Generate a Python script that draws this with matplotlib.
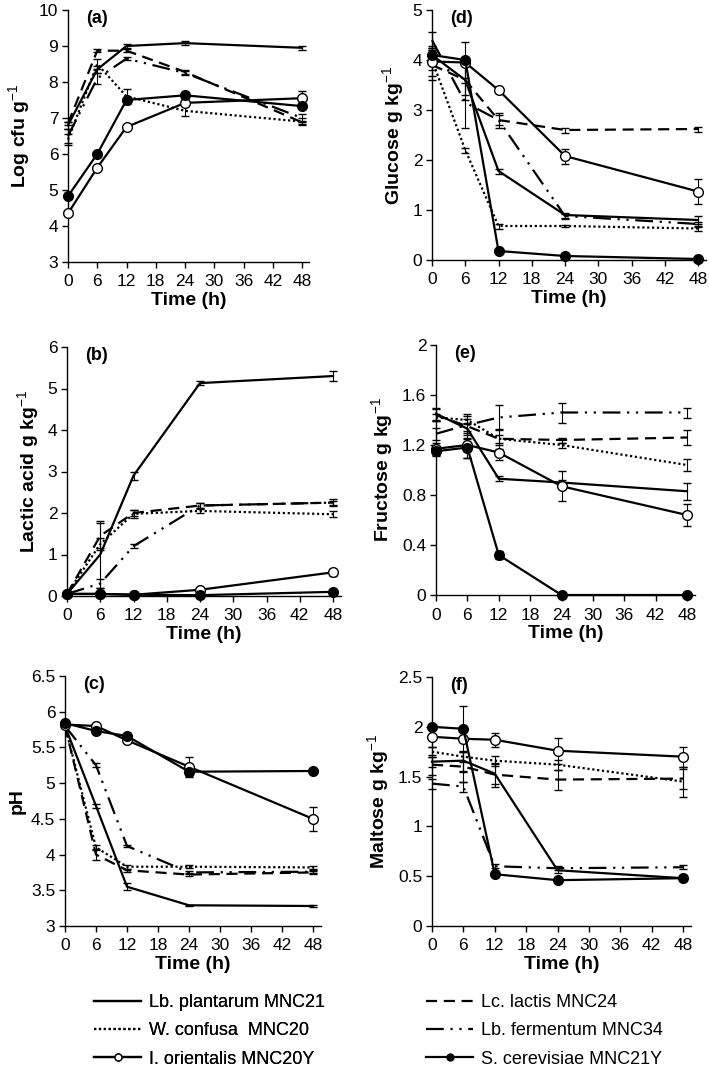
import numpy as np
import matplotlib
matplotlib.use('Agg')
import matplotlib.pyplot as plt
from matplotlib.lines import Line2D
from matplotlib.transforms import offset_copy

plt.rcParams['font.family'] = ['Liberation Sans', 'DejaVu Sans']
plt.rcParams['mathtext.fontset'] = 'custom'
plt.rcParams['mathtext.rm'] = 'Liberation Sans'
plt.rcParams['mathtext.bf'] = 'Liberation Sans:bold'

# sampling times (h)
time = [0, 6, 12, 24, 48]
strains = ['Lb. plantarum MNC21', 'Lc. lactis MNC24', 'W. confusa  MNC20',
           'Lb. fermentum MNC34', 'I. orientalis MNC20Y', 'S. cerevisiae MNC21Y']

# (a) Log cfu g-1
cfu_plantarum = [6.8, 8.35, 9.0, 9.08, 8.95]
cfu_lactis = [6.85, 8.87, 8.87, 8.28, 6.88]
cfu_confusa = [6.4, 8.5, 7.6, 7.2, 6.9]
cfu_fermentum = [6.5, 8.1, 8.65, 8.25, 7.0]
cfu_orientalis = [4.35, 5.62, 6.75, 7.42, 7.55]
cfu_cerevisiae = [4.83, 6.0, 7.5, 7.63, 7.33]
cfu_err = [[0.1, 0.1, 0.05, 0.05, 0.05], [0.05, 0.05, 0.05, 0.05, 0.05],
           [0.15, 0.15, 0.2, 0.15, 0.1], [0.2, 0.15, 0.05, 0.05, 0.1],
           [0.05, 0.05, 0.05, 0.1, 0.2], [0.05, 0.05, 0.05, 0.05, 0.05]]

# (b) lactic acid g kg-1
lac_plantarum = [0.05, 1.0, 2.9, 5.13, 5.3]
lac_lactis = [0.05, 1.45, 2.0, 2.18, 2.25]
lac_confusa = [0.05, 1.25, 1.98, 2.05, 1.97]
lac_fermentum = [0.05, 0.3, 1.2, 2.18, 2.25]
lac_orientalis = [0.05, 0.05, 0.03, 0.15, 0.57]
lac_cerevisiae = [0.05, 0.05, 0.03, 0.02, 0.1]
lac_err = [[0.02, 0.8, 0.1, 0.05, 0.12], [0.02, 0.3, 0.08, 0.05, 0.08],
           [0.02, 0.15, 0.1, 0.05, 0.07], [0.02, 0.1, 0.05, 0.05, 0.05],
           [0.02, 0.02, 0.02, 0.03, 0.08], [0.01, 0.01, 0.01, 0.01, 0.01]]

# (c) pH
ph_plantarum = [5.8, 4.68, 3.55, 3.29, 3.28]
ph_lactis = [5.8, 4.0, 3.78, 3.72, 3.75]
ph_confusa = [5.8, 4.1, 3.83, 3.83, 3.82]
ph_fermentum = [5.8, 5.25, 4.12, 3.75, 3.76]
ph_orientalis = [5.82, 5.8, 5.6, 5.23, 4.5]
ph_cerevisiae = [5.84, 5.73, 5.66, 5.16, 5.17]
ph_err = [[0.02, 0.03, 0.05, 0.01, 0.01], [0.02, 0.08, 0.02, 0.02, 0.02],
          [0.02, 0.03, 0.03, 0.02, 0.02], [0.02, 0.03, 0.02, 0.02, 0.02],
          [0.02, 0.02, 0.02, 0.13, 0.17], [0.02, 0.02, 0.02, 0.08, 0.02]]

# (d) glucose g kg-1
glu_plantarum = [4.1, 3.6, 1.78, 0.9, 0.8]
glu_lactis = [3.9, 3.6, 2.8, 2.6, 2.62]
glu_confusa = [4.0, 2.2, 0.68, 0.68, 0.63]
glu_fermentum = [4.4, 3.15, 2.8, 0.88, 0.72]
glu_orientalis = [3.97, 3.95, 3.4, 2.08, 1.37]
glu_cerevisiae = [4.1, 4.0, 0.18, 0.08, 0.02]
glu_err = [[0.15, 0.3, 0.05, 0.05, 0.08], [0.3, 0.4, 0.15, 0.05, 0.05],
           [0.2, 0.05, 0.05, 0.02, 0.05], [0.15, 0.5, 0.1, 0.05, 0.05],
           [0.3, 0.4, 0.05, 0.15, 0.25], [0.05, 0.05, 0.03, 0.02, 0.02]]

# (e) fructose g kg-1
fru_plantarum = [1.45, 1.33, 0.93, 0.9, 0.83]
fru_lactis = [1.44, 1.35, 1.25, 1.24, 1.26]
fru_confusa = [1.42, 1.4, 1.25, 1.2, 1.04]
fru_fermentum = [1.29, 1.36, 1.42, 1.46, 1.46]
fru_orientalis = [1.17, 1.2, 1.14, 0.87, 0.64]
fru_cerevisiae = [1.15, 1.18, 0.32, 0.0, 0.0]
fru_err = [[0.05, 0.05, 0.02, 0.02, 0.07], [0.05, 0.1, 0.08, 0.02, 0.06],
           [0.03, 0.03, 0.03, 0.02, 0.05], [0.05, 0.05, 0.1, 0.08, 0.04],
           [0.05, 0.1, 0.06, 0.12, 0.09], [0.04, 0.08, 0.03, 0.0, 0.0]]

# (f) maltose g kg-1
mal_plantarum = [1.65, 1.66, 1.53, 0.56, 0.48]
mal_lactis = [1.62, 1.6, 1.52, 1.47, 1.48]
mal_confusa = [1.75, 1.7, 1.66, 1.62, 1.45]
mal_fermentum = [1.43, 1.4, 0.6, 0.58, 0.59]
mal_orientalis = [1.9, 1.88, 1.87, 1.76, 1.7]
mal_cerevisiae = [2.0, 1.98, 0.52, 0.46, 0.48]
mal_err = [[0.05, 0.1, 0.1, 0.03, 0.03], [0.1, 0.15, 0.12, 0.1, 0.1],
           [0.05, 0.05, 0.05, 0.05, 0.15], [0.05, 0.05, 0.02, 0.02, 0.02],
           [0.1, 0.33, 0.07, 0.13, 0.1], [0.02, 0.02, 0.02, 0.02, 0.02]]

# line style for each strain, same order as strains
styles = [
    dict(ls='-', marker=None),
    dict(ls=(0, (5, 3)), marker=None),
    dict(ls=(0, (1, 1.2)), marker=None),
    dict(ls=(0, (8, 3, 1, 3, 1, 3)), marker=None),
    dict(ls='-', marker='o', mfc='white'),
    dict(ls='-', marker='o', mfc='black'),
]

W, H = 709, 1074
fig = plt.figure(figsize=(W / 100, H / 100), dpi=100)


def make_ax(x0, x48, ytop, ybot):
    # pixel positions of x=0, x=48, top and bottom of y range
    ppx = (x48 - x0) / 48.0
    width = 49.5 * ppx
    return fig.add_axes([x0 / W, 1 - ybot / H, width / W, (ybot - ytop) / H])


panels = [
    ('(a)', 'Log cfu g$^{-1}$', (3, 10), 1,
     [cfu_plantarum, cfu_lactis, cfu_confusa, cfu_fermentum, cfu_orientalis, cfu_cerevisiae], cfu_err,
     (68, 302, 10, 262)),
    ('(b)', 'Lactic acid g kg$^{-1}$', (0, 6), 1,
     [lac_plantarum, lac_lactis, lac_confusa, lac_fermentum, lac_orientalis, lac_cerevisiae], lac_err,
     (67, 333, 347, 596)),
    ('(c)', 'pH', (3, 6.5), 0.5,
     [ph_plantarum, ph_lactis, ph_confusa, ph_fermentum, ph_orientalis, ph_cerevisiae], ph_err,
     (65, 313, 676, 926)),
    ('(d)', 'Glucose g kg$^{-1}$', (0, 5), 1,
     [glu_plantarum, glu_lactis, glu_confusa, glu_fermentum, glu_orientalis, glu_cerevisiae], glu_err,
     (432, 698, 10, 260)),
    ('(e)', 'Fructose g kg$^{-1}$', (0, 2), 0.4,
     [fru_plantarum, fru_lactis, fru_confusa, fru_fermentum, fru_orientalis, fru_cerevisiae], fru_err,
     (436, 687, 345, 595)),
    ('(f)', 'Maltose g kg$^{-1}$', (0, 2.5), 0.5,
     [mal_plantarum, mal_lactis, mal_confusa, mal_fermentum, mal_orientalis, mal_cerevisiae], mal_err,
     (432, 683, 677, 926)),
]

for label, ylabel, ylim, ystep, series, errs, box in panels:
    ax = make_ax(*box)
    for vals, err, st in zip(series, errs, styles):
        ax.errorbar(time, vals, yerr=err, color='black', lw=1.6, ls=st['ls'],
                    marker=st['marker'], ms=7, mfc=st.get('mfc', 'black'), mec='black', mew=1.0,
                    elinewidth=0.8, capsize=3, capthick=0.8, clip_on=False, zorder=3)
    ax.set_xlim(0, 49.5)
    ax.set_ylim(*ylim)
    ax.set_xticks([0, 6, 12, 18, 24, 30, 36, 42, 48])
    ticks = np.arange(ylim[0], ylim[1] + 1e-9, ystep)
    ax.set_yticks(ticks)
    ax.set_yticklabels(['%g' % t for t in ticks])
    for s in ['top', 'right']:
        ax.spines[s].set_visible(False)
    for s in ['left', 'bottom']:
        ax.spines[s].set_linewidth(1.0)
    ax.tick_params(direction='out', length=4, width=1.0, labelsize=12.5, pad=3)
    ax.tick_params(axis='x', pad=5)
    ax.set_xlabel('Time (h)', fontsize=14, fontweight='bold', labelpad=2)
    ax.set_ylabel(ylabel, fontsize=14, fontweight='bold', labelpad=4)
    tr = offset_copy(ax.transAxes, fig=fig, x=18 * 0.72, y=0, units='points')
    ax.text(0, 1.0, label, transform=tr, fontsize=13, fontweight='bold',
            va='top', ha='left')

handles = []
for name, st in zip(strains, styles):
    handles.append(Line2D([], [], color='black', lw=1.6, ls=st['ls'], marker=st['marker'], ms=5,
                          mfc=st.get('mfc', 'black'), mec='black'))

leg_left = fig.legend([handles[0], handles[2], handles[4]], [strains[0], strains[2], strains[4]],
                      loc='upper left', bbox_to_anchor=(78 / W, 1 - 978 / H), frameon=False,
                      fontsize=13, handlelength=2.6, labelspacing=0.62, numpoints=1, handletextpad=0.45)
leg_right = fig.legend([handles[1], handles[3], handles[5]], [strains[1], strains[3], strains[5]],
                       loc='upper left', bbox_to_anchor=(410 / W, 1 - 978 / H), frameon=False,
                       fontsize=13, handlelength=2.6, labelspacing=0.62, numpoints=1, handletextpad=0.45)
fig.add_artist(leg_left)

fig.savefig('out.png', dpi=100)
